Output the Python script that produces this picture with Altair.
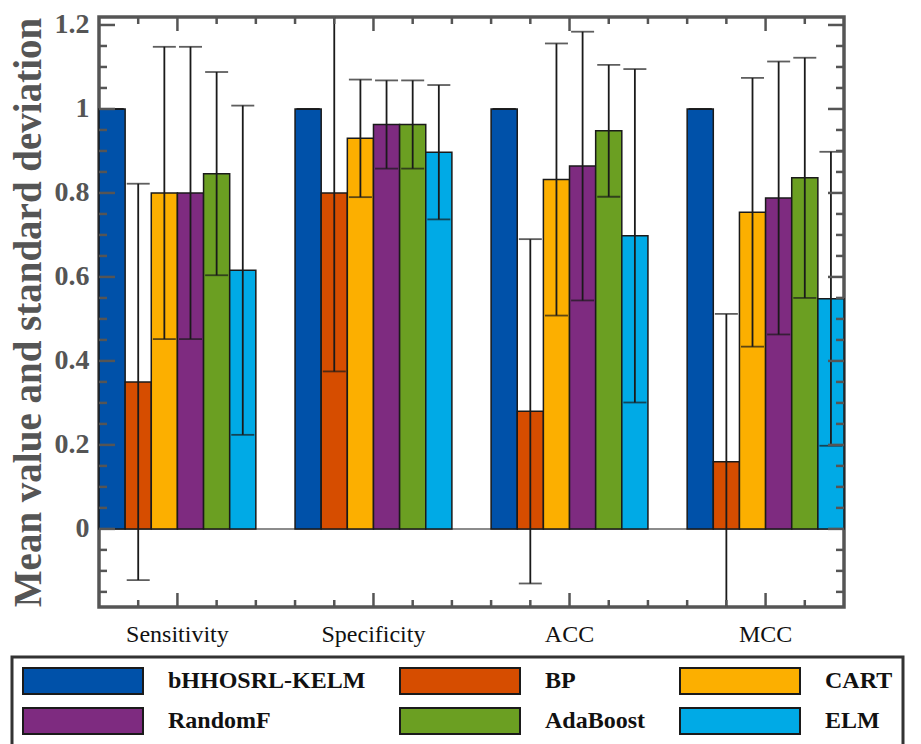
import altair as alt
import pandas as pd

metrics = ["Sensitivity", "Specificity", "ACC", "MCC"]
methods = ["bHHOSRL-KELM", "BP", "CART", "RandomF", "AdaBoost", "ELM"]
colors = ["#0051A9", "#D64D00", "#FCAF00", "#7E2B80", "#6B9F22", "#00AAE6"]

# mean values per method (Sensitivity, Specificity, ACC, MCC)
mean_bhho = [1.0, 1.0, 1.0, 1.0]
mean_bp = [0.35, 0.80, 0.28, 0.16]
mean_cart = [0.80, 0.93, 0.832, 0.754]
mean_rf = [0.80, 0.963, 0.864, 0.788]
mean_ada = [0.846, 0.963, 0.948, 0.836]
mean_elm = [0.616, 0.897, 0.698, 0.548]

# standard deviations per method
std_bhho = [0.0, 0.0, 0.0, 0.0]
std_bp = [0.472, 0.425, 0.41, 0.352]
std_cart = [0.348, 0.14, 0.324, 0.32]
std_rf = [0.348, 0.105, 0.32, 0.325]
std_ada = [0.242, 0.105, 0.157, 0.286]
std_elm = [0.392, 0.16, 0.397, 0.35]

means = [mean_bhho, mean_bp, mean_cart, mean_rf, mean_ada, mean_elm]
stds = [std_bhho, std_bp, std_cart, std_rf, std_ada, std_elm]

y_major = [0, 0.2, 0.4, 0.6, 0.8, 1.0, 1.2]
y_minor = [-0.15, -0.1, -0.05, 0.05, 0.1, 0.15, 0.25, 0.3, 0.35, 0.45, 0.5, 0.55,
           0.65, 0.7, 0.75, 0.85, 0.9, 0.95, 1.05, 1.1, 1.15]
x_major = [1, 2, 3, 4]
x_minor = [0.8, 1.2, 1.4, 1.6, 1.8, 2.2, 2.4, 2.6, 2.8, 3.2, 3.4, 3.6, 3.8, 4.2]

rows = []
for meth, mus, sds in zip(methods, means, stds):
    for met, mu, sd in zip(metrics, mus, sds):
        rows.append({"metric": met, "method": meth, "mean": mu,
                     "lo": mu - sd, "hi": mu + sd})
df = pd.DataFrame(rows)

W, H = 745, 590
yscale = alt.Scale(domain=[-0.186, 1.219], nice=False, zero=False)
xq = alt.Scale(domain=[0.6, 4.4], nice=False, zero=False)
xband = alt.Scale(paddingInner=0.2, paddingOuter=0)
xoffscale = alt.Scale(paddingInner=0, paddingOuter=0)
SERIF = "Liberation Serif"
TICK = "#555555"
INK = "#1a1a1a"

# legend swatch: 120 x 26 rectangle, left-aligned to the symbol slot
rect_path = "M-1,-1L8.23,-1L8.23,1L-1,1Z"

yaxis = alt.Axis(title="Mean value and standard deviation", values=y_major,
                 format="~g", ticks=False, domain=False, grid=False,
                 labelFont=SERIF, labelFontSize=28, labelFontWeight="bold",
                 labelColor="#555555", labelPadding=10,
                 titleFont=SERIF, titleFontSize=39, titleFontWeight="bold",
                 titleColor="#555555", titlePadding=6)

base = alt.Chart(df)

bars = base.mark_bar(stroke=INK, strokeWidth=1.5).encode(
    x=alt.X("metric:N", sort=metrics, scale=xband,
            axis=alt.Axis(title=None, labelAngle=0, ticks=False, domain=False, grid=False,
                          labelFont=SERIF, labelFontSize=24, labelColor="#111111",
                          labelPadding=15)),
    xOffset=alt.XOffset("method:N", sort=methods, scale=xoffscale),
    y=alt.Y("mean:Q", scale=yscale, axis=yaxis),
    color=alt.Color("method:N", sort=methods,
                    scale=alt.Scale(domain=methods, range=colors),
                    legend=alt.Legend(orient="none", legendX=-87, legendY=640,
                                      columns=3, title=None, direction="horizontal",
                                      symbolType=rect_path, symbolSize=676,
                                      symbolStrokeColor=INK, symbolStrokeWidth=2,
                                      symbolOpacity=1,
                                      labelFont=SERIF, labelFontSize=24,
                                      labelFontWeight="bold", labelColor="#111111",
                                      labelLimit=400,
                                      labelOffset=118, columnPadding=30, rowPadding=6,
                                      padding=10, strokeColor="#333333")),
)

xn = alt.X("metric:N", sort=metrics, scale=xband, axis=None)
xo = alt.XOffset("method:N", sort=methods, scale=xoffscale)

errs = base.mark_rule(color=INK, strokeWidth=1.8, clip=True).encode(
    x=xn, xOffset=xo,
    y=alt.Y("lo:Q", scale=yscale, axis=yaxis), y2="hi:Q")
caps_hi = base.mark_tick(color=INK, thickness=1.8, size=23, clip=True).encode(
    x=xn, xOffset=xo, y=alt.Y("hi:Q", scale=yscale, axis=yaxis))
caps_lo = base.mark_tick(color=INK, thickness=1.8, size=23, clip=True).encode(
    x=xn, xOffset=xo, y=alt.Y("lo:Q", scale=yscale, axis=yaxis))

baseline = alt.Chart(pd.DataFrame({"v": [0]})).mark_rule(color="#8c8c8c", strokeWidth=2).encode(
    y=alt.Y("v:Q", scale=yscale, axis=yaxis), x=alt.value(0), x2=alt.value(W))

ymaj = alt.Chart(pd.DataFrame({"v": y_major}))
ymin = alt.Chart(pd.DataFrame({"v": y_minor}))
xmaj = alt.Chart(pd.DataFrame({"v": x_major}))
xmin = alt.Chart(pd.DataFrame({"v": x_minor}))

def yt(src, x0, x1):
    return src.mark_rule(color=TICK, strokeWidth=2.5).encode(
        y=alt.Y("v:Q", scale=yscale, axis=yaxis), x=alt.value(x0), x2=alt.value(x1))

def xt(src, y0, y1):
    return src.mark_rule(color=TICK, strokeWidth=2.5).encode(
        x=alt.X("v:Q", scale=xq, axis=None), y=alt.value(y0), y2=alt.value(y1))

ticks = [
    yt(ymaj, 0, 16), yt(ymaj, W - 16, W), yt(ymin, 0, 8), yt(ymin, W - 8, W),
    xt(xmaj, H - 14, H), xt(xmaj, 0, 14), xt(xmin, H - 7, H), xt(xmin, 0, 7),
]

chart = alt.layer(baseline, bars, errs, caps_hi, caps_lo, *ticks).resolve_scale(
    x="independent"
).properties(
    width=W, height=H, padding={"left": 0, "top": 2, "right": 0, "bottom": 0},
    background="white"
).configure_view(stroke="#555555", strokeWidth=3.5).configure_legend(strokeWidth=3)

chart.save("out.html", embed_options={"renderer": "svg", "actions": False})
